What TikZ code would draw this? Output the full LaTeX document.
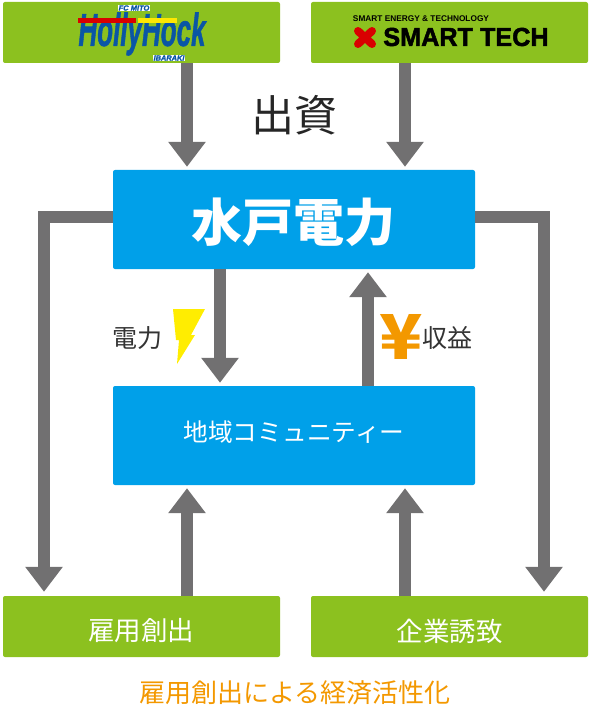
\documentclass[tikz,border=0pt]{standalone}
\usepackage{fontspec}
\setmainfont{Liberation Sans}
\newfontfamily\cjk{Noto Sans CJK JP}
\newfontfamily\logofont[FakeBold=1.5]{Liberation Sans Bold Italic}
\newfontfamily\smartfont[FakeBold=2]{Liberation Sans Bold}
\usetikzlibrary{arrows.meta,positioning}
\definecolor{boxgreen}{HTML}{8CC11F}
\definecolor{boxblue}{HTML}{00A0E9}
\definecolor{flowgray}{HTML}{717071}
\definecolor{caporange}{HTML}{F39800}
\definecolor{logoblue}{HTML}{0A56A5}
\begin{document}
\begin{tikzpicture}[
    x=1pt, y=-1pt,
    every node/.style={font=\cjk, inner sep=0pt},
    greenbox/.style={fill=boxgreen, rounded corners=2pt, minimum width=277pt, minimum height=61pt},
    bluebox/.style={fill=boxblue, rounded corners=2pt, minimum width=362pt, minimum height=99pt},
    boxlabel/.style={text=white, font=\cjk\fontsize{26.5}{30}\selectfont},
    flow/.style={draw=flowgray, line width=12pt, -{Triangle[width=36pt,length=25pt]}, shorten >=3pt},
    sidelabel/.style={text=black!80, font=\cjk\fontsize{25}{28}\selectfont},
    logotag/.style={text=logoblue, fill=white, inner sep=0.5pt}
]
\useasboundingbox (0,0) rectangle (590,714);

\node[greenbox] (hollyhock) at (141.5,32.5) {};
\node[greenbox] (smarttech) at (449.5,32.5) {};
\node[bluebox] (mitodenryoku) at (294,219.5) {};
\node[bluebox] (community) at (294,435.5) {};
\node[greenbox] (koyou) at (141.5,626.5) {};
\node[greenbox] (kigyou) at (449.5,626.5) {};

\node[boxlabel, font=\cjk\bfseries\fontsize{51}{56}\selectfont] (mitolabel) at (293,222) {水戸電力};
\node[boxlabel, font=\cjk\fontsize{24.7}{28}\selectfont] (communitylabel) at (294,432) {地域コミュニティー};
\node[boxlabel] (koyoulabel) at (141,631) {雇用創出};
\node[boxlabel] (kigyoulabel) at (449.5,631) {企業誘致};

% logos
\node[text=logoblue, font=\logofont\fontsize{46}{46}\selectfont, xscale=0.565] (hhname) at (142,34) {HollyHock};
\fill[red!85!black] (78,18) rectangle (136,23);
\fill[yellow!90!orange] (138,18) rectangle (177,23);
\node[logotag, font=\logofont\fontsize{7.5}{8}\selectfont] (hhtop) at (134,8) {FC MITO};
\node[logotag, font=\logofont\fontsize{7.4}{8}\selectfont] (hhbottom) at (169,58) {IBARAKI};
\node[text=black, font=\bfseries\fontsize{8.3}{9}\selectfont] (smarttop) at (421,19) {SMART ENERGY \& TECHNOLOGY};
\node[text=black, font=\smartfont\fontsize{26}{26}\selectfont, xscale=0.97] (smartname) at (466,37) {SMART TECH};
\draw[red!85!black, line width=8pt, line cap=round] (358,31) -- (372,44) (372,31) -- (358,44);

% flows
\draw[flow] ([xshift=45.5pt]hollyhock.south) -- ([xshift=-107pt]mitodenryoku.north);
\draw[flow] ([xshift=-44.5pt]smarttech.south) -- ([xshift=111pt]mitodenryoku.north);
\coordinate (leftcorner) at (44,217);
\coordinate (rightcorner) at (544,217);
\draw[flow, shorten >=4pt] ([yshift=2.5pt]mitodenryoku.west) -- (leftcorner) -- (koyou.north -| leftcorner);
\draw[flow, shorten >=4pt] ([yshift=2.5pt]mitodenryoku.east) -- (rightcorner) -- (kigyou.north -| rightcorner);
\draw[flow] ([xshift=-74pt]mitodenryoku.south) -- ([xshift=-74pt]community.north);
\draw[flow] ([xshift=74pt]community.north) -- ([xshift=74pt]mitodenryoku.south);
\draw[flow] ([xshift=45.5pt]koyou.north) -- ([xshift=-107pt]community.south);
\draw[flow] ([xshift=-44.5pt]kigyou.north) -- ([xshift=111pt]community.south);

% labels
\node[text=black!85, font=\cjk\fontsize{43}{46}\selectfont] (shusshi) at (294,115) {出資};
\node[sidelabel] (denryoku) at (137,338) {電力};
\node[sidelabel] (shueki) at (447,338) {収益};
\fill[yellow!95!orange] (173,309) -- (205,309) -- (191,335) -- (195,335) -- (177,364) -- (179,340) -- (176,340) -- cycle;
\node[text=caporange, font=\cjk\bfseries\fontsize{62}{62}\selectfont, xscale=1.15] (yen) at (401,337) {¥};
\node[text=caporange, font=\cjk\fontsize{26}{30}\selectfont] (caption) at (295,693) {雇用創出による経済活性化};
\end{tikzpicture}
\end{document}
